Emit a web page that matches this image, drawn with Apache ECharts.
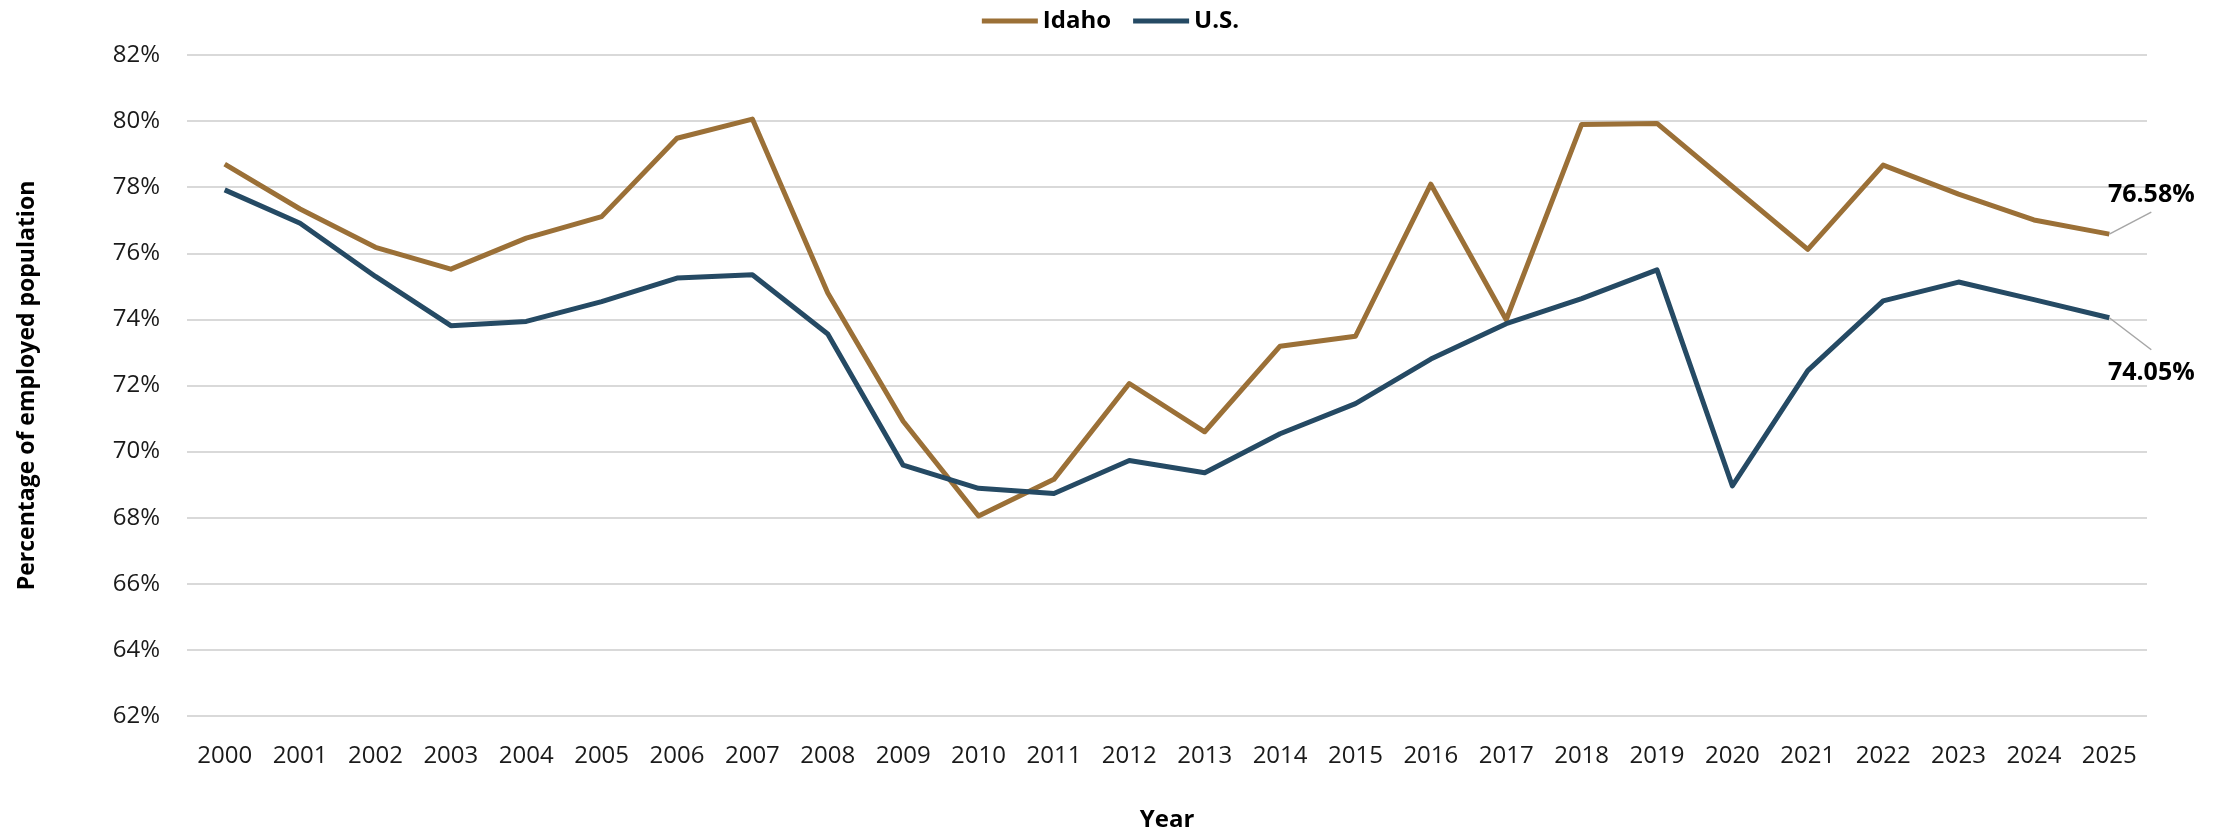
<!DOCTYPE html>
<html>
<head>
<meta charset="utf-8">
<script src="https://cdn.jsdelivr.net/npm/echarts@6/dist/echarts.min.js"></script>
<style>
  html, body { margin: 0; padding: 0; background: #fff; }
  #chart { width: 2221px; height: 837px; }
</style>
</head>
<body>
<div id="chart"></div>
<script>
const years = ['2000','2001','2002','2003','2004','2005','2006','2007','2008','2009','2010','2011','2012',
  '2013','2014','2015','2016','2017','2018','2019','2020','2021','2022','2023','2024','2025'];

// percentage of employed population
const idaho = [78.70, 77.34, 76.18, 75.52, 76.46, 77.11, 79.48, 80.06, 74.80, 70.92, 68.05, 69.16, 72.06,
  70.60, 73.19, 73.49, 78.09, 73.99, 79.90, 79.93, 78.02, 76.12, 78.67, 77.79, 77.01, 76.58];
const us = [77.92, 76.91, 75.30, 73.81, 73.94, 74.54, 75.25, 75.35, 73.56, 69.59, 68.89, 68.73, 69.73,
  69.36, 70.54, 71.45, 72.80, 73.87, 74.63, 75.50, 68.96, 72.45, 74.56, 75.13, 74.60, 74.05];

const FONT = '"Open Sans", "Noto Sans", sans-serif';
const lastIdx = years.length - 1;

// only the final point carries a label, pulled off to the right
function endPoint(values, pos) {
  return values.map((v, i) => i !== lastIdx ? v : {
    value: v,
    label: {
      show: true, position: pos, distance: 5,
      formatter: p => p.value.toFixed(2) + '%',
      fontFamily: FONT, fontSize: 25, fontWeight: 'bold', color: '#000'
    }
  });
}

const chart = echarts.init(document.getElementById('chart'));
chart.setOption({
  animation: false,
  textStyle: { fontFamily: FONT },
  legend: {
    top: 4,
    left: 'center',
    icon: 'rect',
    itemWidth: 56,
    itemHeight: 5,
    itemGap: 22,
    textStyle: { fontFamily: FONT, fontSize: 24, fontWeight: 'bold', color: '#000' },
    data: ['Idaho', 'U.S.']
  },
  grid: { left: 187, right: 74, top: 55, bottom: 120 },
  xAxis: {
    type: 'category',
    data: years,
    boundaryGap: true,
    name: 'Year',
    nameLocation: 'middle',
    nameGap: 92,
    nameTextStyle: { fontFamily: FONT, fontSize: 24, fontWeight: 'bold', color: '#000' },
    axisLine: { show: false },
    axisTick: { show: false },
    axisLabel: { fontFamily: FONT, fontSize: 24, color: '#1a1a1a', margin: 28, interval: 0 }
  },
  yAxis: {
    type: 'value',
    min: 62,
    max: 82,
    interval: 2,
    name: 'Percentage of employed population',
    nameLocation: 'middle',
    nameGap: 148,
    nameTextStyle: { fontFamily: FONT, fontSize: 23, fontWeight: 'bold', color: '#000' },
    axisLine: { show: false },
    axisTick: { show: false },
    axisLabel: { fontFamily: FONT, fontSize: 24, color: '#1a1a1a', margin: 27, formatter: '{value}%' },
    splitLine: { lineStyle: { color: '#d9d9d9', width: 2 } }
  },
  series: [
    {
      name: 'Idaho',
      type: 'line',
      data: endPoint(idaho, 'top'),
      symbol: 'circle',
      symbolSize: 0.1,
      showSymbol: true,
      color: '#9b7037',
      lineStyle: { width: 5, join: 'round' },
      labelLayout: p => p.dataIndex === lastIdx ? { dx: 42, dy: -22 } : {}
    },
    {
      name: 'U.S.',
      type: 'line',
      data: endPoint(us, 'bottom'),
      symbol: 'circle',
      symbolSize: 0.1,
      showSymbol: true,
      color: '#254a64',
      lineStyle: { width: 5, join: 'round' },
      labelLayout: p => p.dataIndex === lastIdx ? { dx: 42, dy: 38 } : {}
    }
  ]
});

// leader lines from the last points up/down to the labels, Excel style
function leader(seriesIndex, value, dx, dy) {
  const [x, y] = chart.convertToPixel({ seriesIndex: seriesIndex }, [lastIdx, value]);
  return {
    type: 'line',
    z: 10,
    shape: { x1: x, y1: y, x2: x + dx, y2: y + dy },
    style: { stroke: '#a6a6a6', lineWidth: 1.5 }
  };
}
chart.setOption({
  graphic: [
    leader(0, idaho[lastIdx], 42, -22),
    leader(1, us[lastIdx], 42, 32)
  ]
});
</script>
</body>
</html>
